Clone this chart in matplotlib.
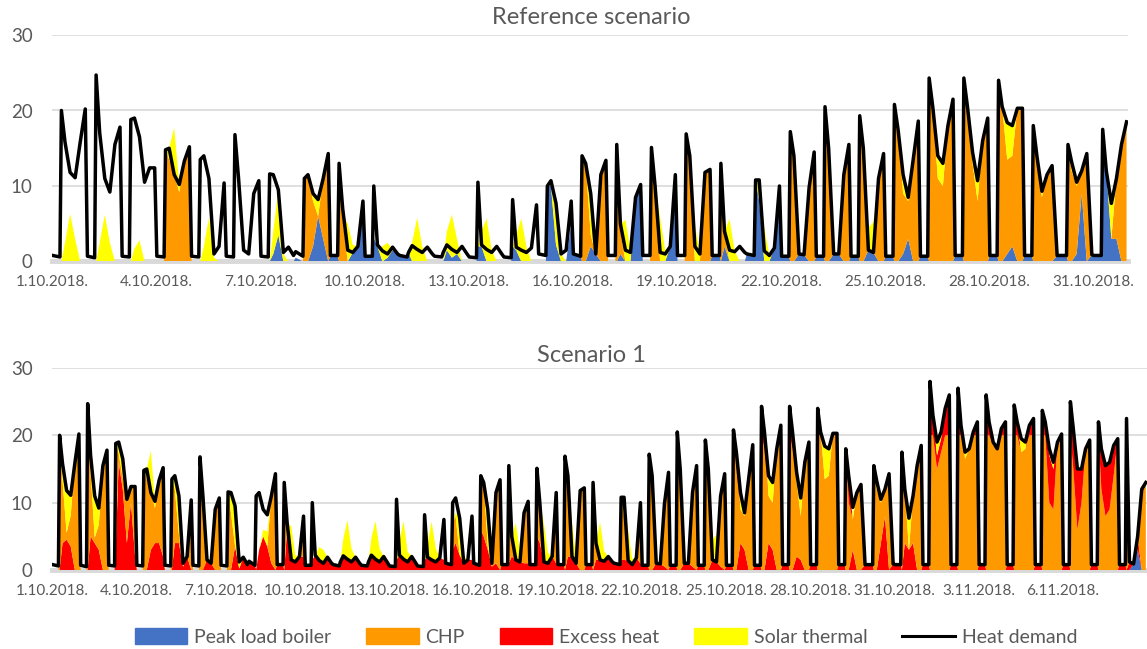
import numpy as np
import matplotlib
matplotlib.use('Agg')
import matplotlib.pyplot as plt
from matplotlib.patches import Patch
from matplotlib.lines import Line2D

plt.rcParams['font.family'] = 'Lato'

hours = [0.5, 5.5, 6.5, 9, 12.5, 16, 19.5, 23]
Z = [0, 0, 0, 0, 0, 0, 0, 0]

# heat demand, one row per day, 1.10.2018. - 8.11.2018.
demand = [
    [0.8, 0.6, 20.0, 15.8, 11.8, 11.1, 15.8, 20.2],
    [0.7, 0.5, 24.7, 17.0, 11.0, 9.2, 15.5, 17.8],
    [0.7, 0.6, 18.8, 19.0, 16.5, 10.5, 12.4, 12.4],
    [0.7, 0.6, 14.8, 15.0, 11.5, 10.2, 13.3, 15.2],
    [0.7, 0.6, 13.5, 14.0, 11.0, 1.0, 2.0, 10.4],
    [0.7, 0.6, 16.8, 11.0, 1.5, 1.0, 9.0, 10.7],
    [0.7, 0.6, 11.6, 11.5, 9.5, 1.2, 1.9, 0.8],
    [1.3, 0.7, 11.0, 11.5, 9.0, 8.2, 11.0, 14.3],
    [0.8, 0.8, 13.0, 7.0, 1.5, 1.2, 2.0, 8.0],
    [0.7, 0.7, 10.0, 2.2, 1.4, 1.0, 1.9, 1.0],
    [0.8, 0.6, 1.2, 2.1, 1.6, 1.2, 1.9, 1.0],
    [0.7, 0.6, 1.2, 2.2, 1.6, 1.2, 2.0, 1.0],
    [0.6, 0.5, 10.5, 2.2, 1.6, 1.2, 2.0, 1.0],
    [0.6, 0.5, 8.2, 1.9, 1.5, 1.2, 1.8, 7.5],
    [1.0, 0.8, 10.0, 10.7, 7.7, 1.0, 1.5, 8.0],
    [1.0, 0.7, 14.0, 13.0, 9.0, 1.0, 11.5, 13.4],
    [0.8, 0.8, 15.5, 5.0, 1.5, 1.2, 8.5, 10.2],
    [0.8, 0.8, 15.1, 10.0, 1.2, 1.0, 2.0, 11.5],
    [0.8, 0.8, 16.9, 14.0, 2.0, 1.0, 11.8, 12.2],
    [0.8, 0.8, 13.0, 4.0, 1.5, 1.3, 2.0, 1.2],
    [1.0, 0.8, 10.8, 10.8, 1.4, 0.8, 1.8, 10.0],
    [0.7, 0.7, 17.2, 14.0, 1.0, 0.9, 9.8, 14.5],
    [0.7, 0.7, 20.5, 15.0, 1.0, 1.0, 11.5, 15.5],
    [0.7, 0.7, 19.3, 15.0, 1.5, 1.2, 11.0, 14.3],
    [0.7, 0.7, 20.8, 17.5, 11.5, 8.5, 13.5, 18.6],
    [0.7, 0.7, 24.3, 20.5, 14.0, 13.0, 18.0, 21.5],
    [0.8, 0.8, 24.3, 20.5, 14.5, 10.7, 16.0, 19.0],
    [0.8, 0.8, 24.0, 20.5, 18.4, 18.0, 20.3, 20.3],
    [0.8, 0.8, 18.0, 14.0, 9.3, 11.5, 12.7, 0.8],
    [0.8, 0.8, 15.5, 13.2, 10.5, 12.0, 14.3, 0.9],
    [0.8, 0.8, 17.5, 12.0, 7.7, 11.0, 15.5, 18.5],
    [0.8, 0.8, 28.0, 23.0, 19.0, 20.5, 24.0, 26.0],
    [0.8, 0.8, 27.0, 21.5, 17.5, 18.0, 20.5, 22.0],
    [0.8, 0.8, 26.0, 22.0, 19.0, 18.0, 21.0, 22.0],
    [0.8, 0.8, 24.5, 22.0, 19.5, 19.0, 21.5, 22.5],
    [0.8, 0.8, 23.7, 22.0, 18.0, 16.0, 19.0, 20.2],
    [0.8, 0.8, 25.0, 21.0, 15.0, 15.0, 18.0, 19.3],
    [0.8, 0.8, 22.0, 18.0, 15.5, 16.0, 18.5, 19.5],
    [0.8, 0.8, 22.5, 1.2, 0.9, 5.0, 12.0, 13.0],
]

# solar thermal at 9h, 12.5h and 16h (zero otherwise), same in both scenarios
solar_mid = [
    [2.5, 6.3, 3.0], [2.5, 6.2, 2.5], [1.7, 2.8, 0], [1.5, 6.2, 1.0],
    [2.0, 5.8, 0.5], [0, 0, 0], [3.0, 6.0, 1.0], [0, 1.0, 2.2],
    [0.5, 5.0, 1.0], [0, 2.0, 2.0], [2.5, 5.8, 2.0], [2.5, 5.7, 2.0],
    [2.0, 5.7, 1.5], [2.0, 5.7, 2.0], [0.5, 5.5, 1.0], [0, 5.5, 0.5],
    [1.0, 5.5, 1.5], [0.5, 5.8, 1.5], [0, 5.0, 1.0], [0.5, 5.6, 1.5],
    [2.8, 4.5, 0.8], [0, 0, 0], [0, 0, 0], [0, 3.0, 4.0],
    [0, 2.5, 0.5], [0, 3.0, 3.0], [0, 1.5, 2.7], [0, 4.9, 4.0],
    [0, 0.8, 0], [1.2, 0.5, 0], [0, 4.7, 0], [0, 2.0, 1.0],
    [0, 1.0, 0], [0, 0.5, 0], [0, 2.0, 1.0], [0, 1.0, 1.0],
    [0, 0, 0], [0, 0, 0], [0, 0, 0],
]

# reference scenario (October only)
ref_boiler = [
    Z, Z, Z, Z, Z, Z,
    [0, 0, 0, 1.0, 3.5, 0, 0, 0],
    [0.5, 0, 0, 0, 2.0, 6.0, 3.0, 0],
    [0.8, 0.8, 0, 0, 0, 1.2, 2.0, 6.0],
    [0.7, 0.7, 3.0, 2.0, 0, 0.5, 1.5, 1.0],
    [0.8, 0.6, 1.2, 0, 0, 0, 0, 0],
    [0, 0, 0, 1.5, 0.5, 1.0, 0, 0],
    [0, 0, 2.0, 2.0, 0, 0, 0, 0],
    [0, 0, 2.0, 1.5, 0, 0, 0, 0],
    [0, 0, 10.0, 10.0, 2.2, 0, 0, 5.0],
    [1.0, 0.7, 0, 0, 2.0, 1.0, 0, 0],
    [0, 0, 0, 1.0, 0, 0, 8.5, 10.2],
    [0, 0, 0, 0, 0, 0, 2.0, 11.5],
    Z,
    [0.8, 0.8, 0, 2.0, 0, 0, 0, 0],
    [1.0, 0.8, 10.8, 8.0, 0, 0, 1.8, 10.0],
    [0.7, 0.7, 0, 0, 1.0, 0.9, 0, 0],
    [0.7, 0.7, 0, 0, 1.0, 1.0, 0, 0],
    [0.7, 0.7, 0, 0, 1.5, 1.2, 0, 0],
    [0.7, 0.7, 0, 0, 1.0, 3.0, 0, 0],
    [0.7, 0.7, 0, 0, 0, 0, 0, 0],
    [0.8, 0.8, 0, 0, 0, 0, 0, 0],
    [0.8, 0.8, 0, 0, 1.0, 2.0, 0, 0],
    [0.8, 0.8, 0, 0, 0, 0, 0, 0.8],
    [0.8, 0.8, 0, 0, 1.0, 9.0, 0, 0.9],
    [0.8, 0.8, 17.5, 12.0, 3.0, 3.0, 0, 0],
]
ref_chp = [
    Z, Z, Z,
    [0, 0, 14.8, 13.5, 11.5, 9.2, 13.3, 15.2],
    Z, Z, Z,
    [0, 0, 11.0, 11.5, 6.0, 0, 8.0, 14.3],
    [0, 0, 13.0, 5.5, 0, 0, 0, 0],
    Z, Z, Z, Z, Z, Z,
    [0, 0, 14.0, 13.0, 1.5, 0, 11.5, 13.4],
    [0, 0, 15.5, 3.0, 0, 0, 0, 0],
    [0, 0, 15.1, 9.5, 0, 0, 0, 0],
    [0, 0, 16.9, 14.0, 0, 0, 11.8, 12.2],
    [0, 0, 13.0, 1.5, 0, 0, 0, 0],
    Z,
    [0, 0, 17.2, 14.0, 0, 0, 9.8, 14.5],
    [0, 0, 20.5, 15.0, 0, 0, 11.5, 15.5],
    [0, 0, 19.3, 15.0, 0, 0, 11.0, 14.3],
    [0, 0, 20.8, 17.5, 8.0, 5.0, 13.5, 18.6],
    [0, 0, 24.3, 20.5, 11.0, 10.0, 18.0, 21.5],
    [0, 0, 24.3, 20.5, 13.0, 8.0, 16.0, 19.0],
    [0, 0, 24.0, 20.5, 12.5, 12.0, 20.3, 20.3],
    [0, 0, 18.0, 14.0, 8.5, 11.5, 12.7, 0],
    [0, 0, 15.5, 12.0, 9.0, 3.0, 14.3, 0],
    [0, 0, 0, 0, 0, 8.0, 15.5, 18.5],
]

# scenario 1: excess heat below and above the CHP band
s1_excess_low = [
    [0, 0, 0, 4.0, 4.5, 3.5, 0, 0],
    [0, 0, 0, 5.0, 4.0, 3.0, 0, 0],
    [0, 0, 3.0, 16.0, 12.0, 4.0, 10.0, 2.0],
    [0, 0, 0, 0, 3.0, 4.0, 4.0, 2.0],
    [0, 0, 0, 4.0, 4.0, 0.5, 2.0, 0],
    [0, 0, 0, 0, 1.5, 1.0, 0, 0],
    [0, 0, 0, 0, 3.5, 0.2, 1.9, 0.8],
    [1.3, 0.7, 0, 3.0, 5.0, 3.5, 1.0, 0],
    [0.8, 0.8, 0, 6.0, 1.5, 1.2, 2.0, 2.0],
    [0.7, 0.7, 1.5, 2.2, 1.4, 1.0, 1.9, 1.0],
    [0.8, 0.6, 1.2, 2.1, 1.6, 1.2, 1.9, 1.0],
    [0.7, 0.6, 1.2, 2.2, 1.6, 1.2, 2.0, 1.0],
    [0.6, 0.5, 1.5, 2.2, 1.6, 1.2, 2.0, 1.0],
    [0.6, 0.5, 1.5, 1.9, 1.5, 1.2, 1.8, 1.5],
    [1.0, 0.8, 3.0, 4.0, 2.2, 1.0, 1.5, 1.5],
    [1.0, 0.7, 6.0, 5.0, 3.0, 0.5, 1.0, 0],
    [0.8, 0.8, 1.0, 2.0, 1.5, 1.2, 1.0, 1.0],
    [0.8, 0.8, 5.0, 4.0, 1.2, 1.0, 2.0, 1.0],
    [0.8, 0.8, 0, 2.0, 2.0, 1.0, 0, 0],
    [0.8, 0.8, 0, 1.5, 1.5, 1.3, 2.0, 1.2],
    [1.0, 0.8, 1.5, 1.5, 1.4, 0.8, 1.8, 1.0],
    [0.7, 0.7, 0, 0, 1.0, 0.9, 0.5, 0],
    [0.7, 0.7, 0, 0, 1.0, 1.0, 0.5, 0],
    [0.7, 0.7, 0, 0, 1.5, 1.2, 0.5, 0],
    [0.7, 0.7, 0, 0, 4.0, 3.0, 0, 0],
    [0.7, 0.7, 0, 0, 4.0, 3.0, 0, 0],
    [0.8, 0.8, 0, 0, 2.0, 1.5, 0, 0],
    [0.8, 0.8, 0, 0, 0, 0, 0, 0],
    [0.8, 0.8, 0, 0, 3.0, 0, 0, 0.8],
    [0.8, 0.8, 0, 0, 4.0, 8.0, 0, 0.9],
    [0.8, 0.8, 0, 4.0, 3.0, 4.0, 0, 0],
    [0.8, 0.8, 0, 0, 0, 0, 0, 0],
    [0.8, 0.8, 0, 0, 0, 0, 0, 0],
    [0.8, 0.8, 0, 0, 0, 0, 0, 0],
    [0.8, 0.8, 0, 0, 0, 0, 0, 0],
    [0.8, 0.8, 0, 0, 0, 0, 0, 0],
    [0.8, 0.8, 0, 0, 0, 0, 0, 0],
    [0.8, 0.8, 0, 0, 0, 0, 0, 0],
    [0.8, 0.8, 0, 1.2, 0, 2.0, 0, 0],
]
s1_chp = [
    [0, 0, 20.0, 9.3, 1.0, 4.6, 15.8, 20.2],
    [0, 0, 24.7, 9.5, 0.8, 3.7, 15.5, 17.8],
    [0, 0, 15.8, 1.3, 1.7, 6.5, 2.4, 10.4],
    [0, 0, 14.8, 13.5, 8.5, 5.2, 9.3, 13.2],
    [0, 0, 13.5, 8.0, 1.2, 0, 0, 10.4],
    [0, 0, 16.8, 11.0, 0, 0, 9.0, 10.7],
    [0, 0, 11.6, 8.5, 0, 0, 0, 0],
    [0, 0, 0, 0, 0, 0, 10.0, 14.3],
    [0, 0, 13.0, 0.5, 0, 0, 0, 6.0],
    Z, Z, Z, Z, Z,
    [0, 0, 4.0, 4.0, 0, 0, 0, 0],
    [0, 0, 8.0, 8.0, 0.5, 0, 10.5, 13.4],
    [0, 0, 14.5, 2.0, 0, 0, 7.5, 9.2],
    [0, 0, 10.1, 5.5, 0, 0, 0, 10.5],
    [0, 0, 16.9, 12.0, 0, 0, 11.8, 12.2],
    [0, 0, 13.0, 2.0, 0, 0, 0, 0],
    [0, 0, 9.3, 6.5, 0, 0, 0, 9.0],
    [0, 0, 17.2, 12.0, 0, 0, 9.3, 14.5],
    [0, 0, 20.0, 13.0, 0, 0, 11.0, 15.5],
    [0, 0, 19.3, 14.0, 0, 0, 10.5, 14.3],
    [0, 0, 20.0, 15.0, 5.0, 5.0, 13.5, 18.6],
    [0, 0, 20.0, 18.0, 7.0, 7.0, 18.0, 20.0],
    [0, 0, 20.0, 18.0, 11.0, 6.5, 16.0, 19.0],
    [0, 0, 20.0, 20.0, 13.5, 14.0, 20.0, 20.0],
    [0, 0, 18.0, 10.0, 4.5, 11.5, 12.7, 0],
    [0, 0, 15.5, 12.0, 6.0, 4.0, 14.3, 0],
    [0, 0, 17.5, 8.0, 0, 7.0, 15.5, 18.5],
    [0, 0, 20.0, 20.0, 15.0, 17.5, 20.0, 20.0],
    [0, 0, 20.0, 20.0, 16.5, 18.0, 20.0, 20.0],
    [0, 0, 20.0, 20.0, 18.5, 18.0, 20.0, 20.0],
    [0, 0, 20.0, 20.0, 17.5, 18.0, 20.0, 20.0],
    [0, 0, 20.0, 20.0, 10.0, 9.0, 19.0, 20.0],
    [0, 0, 20.0, 15.0, 6.0, 10.0, 18.0, 19.3],
    [0, 0, 20.0, 12.0, 8.0, 9.0, 14.0, 19.5],
    [0, 0, 20.0, 0, 0, 0, 11.0, 13.0],
]
s1_excess_top = [Z] * 21 + [
    [0, 0, 0, 2.0, 0, 0, 0, 0],
    [0, 0, 0.5, 2.0, 0, 0, 0, 0],
    [0, 0, 0, 1.0, 0, 0, 0, 0],
    [0, 0, 0.8, 2.5, 0, 0, 0, 0],
    [0, 0, 4.3, 2.5, 0, 0, 0, 1.5],
    [0, 0, 4.3, 2.5, 0, 0, 0, 0],
    [0, 0, 4.0, 0.5, 0, 0, 0.3, 0.3],
    [0, 0, 0, 4.0, 0, 0, 0, 0],
    Z, Z,
    [0, 0, 8.0, 3.0, 2.0, 2.0, 4.0, 6.0],
    [0, 0, 7.0, 1.5, 0, 0, 0.5, 2.0],
    [0, 0, 6.0, 2.0, 0, 0, 1.0, 2.0],
    [0, 0, 4.5, 2.0, 0, 0, 1.5, 2.5],
    [0, 0, 3.7, 2.0, 7.0, 6.0, 0, 0.2],
    [0, 0, 5.0, 6.0, 9.0, 5.0, 0, 0],
    [0, 0, 2.0, 6.0, 7.5, 7.0, 4.5, 0],
    [0, 0, 2.5, 0, 0, 0, 1.0, 0],
]
# peak load boiler in scenario 1 only shows on the last day
s1_boiler_last = [0, 0, 0, 0, 0.9, 3.0, 0, 0]

top_labels = ['1.10.2018.', '4.10.2018.', '7.10.2018.', '10.10.2018.', '13.10.2018.',
              '16.10.2018.', '19.10.2018.', '22.10.2018.', '25.10.2018.', '28.10.2018.',
              '31.10.2018.']
bottom_labels = top_labels + ['3.11.2018.', '6.11.2018.']

C_BOILER = '#4472C4'
C_CHP = '#FF9900'
C_EXCESS = '#FF0000'
C_SOLAR = '#FFFF00'
GREY = '#595959'
GRID = '#D9D9D9'


def hour_axis(ndays):
    return (np.arange(ndays)[:, None] * 24 + np.array(hours)[None, :]).ravel()


def solar_full(ndays):
    s = np.zeros((ndays, 8))
    s[:, 3:6] = np.array(solar_mid[:ndays])
    return s.ravel()


def style(ax, ndays, labels):
    ax.set_xlim(0, ndays * 24)
    ax.set_ylim(0, 30)
    ax.set_yticks([0, 10, 20, 30])
    ax.set_xticks(np.arange(len(labels)) * 72)
    ax.set_xticklabels(labels)
    for s in ax.spines.values():
        s.set_visible(False)
    ax.tick_params(axis='both', length=0, colors=GREY)
    ax.tick_params(axis='y', labelsize=13.5, pad=14)
    ax.tick_params(axis='x', labelsize=11, pad=10)
    ax.grid(axis='y', color=GRID, lw=1.2)
    ax.set_axisbelow(True)
    ax.axhline(0, color=GRID, lw=3.5, zorder=1.5, clip_on=False)


fig = plt.figure(figsize=(11.47, 6.49), dpi=100)

# top panel: reference scenario, 31 days
nd = 31
x = hour_axis(nd)
dem = np.array(demand[:nd]).ravel()
ax1 = fig.add_axes([52 / 1147, 1 - 261.5 / 649, 1076 / 1147, 226.5 / 649])
ax1.stackplot(x, np.array(ref_boiler).ravel(), np.array(ref_chp).ravel(), solar_full(nd),
              colors=[C_BOILER, C_CHP, C_SOLAR], lw=0, zorder=2)
ax1.plot(x, dem, color='black', lw=2.5, solid_joinstyle='round', zorder=4)
style(ax1, nd, top_labels)
fig.text(591 / 1147, 1 - 17 / 649, 'Reference scenario', ha='center', va='center',
         fontsize=17, color=GREY)

# bottom panel: scenario 1, 39 days
nd = 39
x = hour_axis(nd)
dem = np.array(demand).ravel()
boiler = np.zeros((nd, 8))
boiler[-1] = s1_boiler_last
ax2 = fig.add_axes([52 / 1147, 1 - 570 / 649, 1095 / 1147, 202 / 649])
ax2.stackplot(x, boiler.ravel(), np.array(s1_excess_low).ravel(), np.array(s1_chp).ravel(),
              np.array(s1_excess_top).ravel(), solar_full(nd),
              colors=[C_BOILER, C_EXCESS, C_CHP, C_EXCESS, C_SOLAR], lw=0, zorder=2)
ax2.plot(x, dem, color='black', lw=2.5, solid_joinstyle='round', zorder=4)
style(ax2, nd, bottom_labels)
fig.text(591 / 1147, 1 - 356 / 649, 'Scenario 1', ha='center', va='center',
         fontsize=17, color=GREY)

handles = [Patch(color=C_BOILER), Patch(color=C_CHP), Patch(color=C_EXCESS),
           Patch(color=C_SOLAR), Line2D([], [], color='black', lw=2.2)]
names = ['Peak load boiler', 'CHP', 'Excess heat', 'Solar thermal', 'Heat demand']
leg = fig.legend(handles, names, loc='center', bbox_to_anchor=(606 / 1147, 1 - 637 / 649),
                 ncol=5, frameon=False, fontsize=14, handlelength=2.7, handleheight=0.9,
                 handletextpad=0.35, columnspacing=1.8)
for t in leg.get_texts():
    t.set_color(GREY)

fig.savefig('out.png', dpi=100)
